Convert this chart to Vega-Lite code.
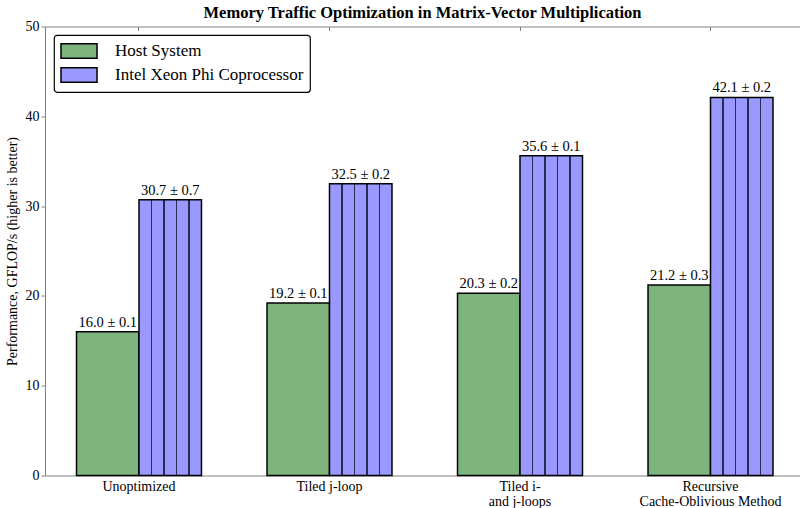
{
  "$schema": "https://vega.github.io/schema/vega-lite/v6.json",
  "autosize": {"type": "none"},
  "width": 755,
  "height": 449,
  "padding": {"left": 45, "top": 26.5, "right": 0, "bottom": 32.5},
  "background": "white",
  "title": {
    "text": "Memory Traffic Optimization in Matrix-Vector Multiplication",
    "font": "Liberation Serif",
    "fontSize": 16.5,
    "fontWeight": "bold",
    "color": "black",
    "anchor": "middle",
    "offset": -2
  },
  "config": {
    "view": {"stroke": null},
    "axis": {
      "labelFont": "Liberation Serif",
      "titleFont": "Liberation Serif",
      "labelFontSize": 14,
      "titleFontSize": 14,
      "labelColor": "black",
      "titleColor": "black",
      "titleFontWeight": "normal",
      "domainColor": "#808080",
      "tickColor": "#808080",
      "grid": false
    },
    "legend": {
      "orient": "none",
      "legendX": 9,
      "legendY": 8.5,
      "fillColor": "white",
      "strokeColor": "black",
      "strokeWidth": 1.2,
      "cornerRadius": 3,
      "padding": 6,
      "symbolType": "M-2,-0.8H2V0.8H-2Z",
      "symbolSize": 324,
      "symbolOffset": 9,
      "symbolStrokeColor": "black",
      "symbolStrokeWidth": 1.5,
      "symbolOpacity": 1,
      "labelFont": "Liberation Serif",
      "labelFontSize": 17,
      "labelColor": "black",
      "labelOffset": 26,
      "rowPadding": 2,
      "labelLimit": 400
    }
  },
  "data": {
    "values": [
      {"method": "Unoptimized", "series": "Host System", "value": 16.0, "label": "16.0 ± 0.1"},
      {"method": "Unoptimized", "series": "Intel Xeon Phi Coprocessor", "value": 30.7, "label": "30.7 ± 0.7"},
      {"method": "Tiled j-loop", "series": "Host System", "value": 19.2, "label": "19.2 ± 0.1"},
      {"method": "Tiled j-loop", "series": "Intel Xeon Phi Coprocessor", "value": 32.5, "label": "32.5 ± 0.2"},
      {"method": "Tiled i-\nand j-loops", "series": "Host System", "value": 20.3, "label": "20.3 ± 0.2"},
      {"method": "Tiled i-\nand j-loops", "series": "Intel Xeon Phi Coprocessor", "value": 35.6, "label": "35.6 ± 0.1"},
      {"method": "Recursive\nCache-Oblivious Method", "series": "Host System", "value": 21.2, "label": "21.2 ± 0.3"},
      {"method": "Recursive\nCache-Oblivious Method", "series": "Intel Xeon Phi Coprocessor", "value": 42.1, "label": "42.1 ± 0.2"}
    ]
  },
  "encoding": {
    "x": {
      "field": "method",
      "type": "nominal",
      "sort": null,
      "scale": {"range": [0, 759.5], "paddingInner": 0.344, "paddingOuter": 0.1654}
    },
    "xOffset": {
      "field": "series",
      "type": "nominal",
      "scale": {"domain": ["Host System", "Intel Xeon Phi Coprocessor"], "paddingInner": 0, "paddingOuter": 0}
    },
    "y": {
      "field": "value",
      "type": "quantitative",
      "scale": {"domain": [0, 50], "nice": false, "zero": true}
    }
  },
  "layer": [
    {
      "mark": {"type": "bar", "stroke": "black", "strokeWidth": 1.5, "opacity": 1},
      "encoding": {
        "x": {
          "field": "method",
          "type": "nominal",
          "sort": null,
          "axis": {
            "orient": "bottom",
            "title": null,
            "labelAngle": 0,
            "ticks": false,
            "labelPadding": 4,
            "labelLineHeight": 15,
            "labelExpr": "split(datum.label, '\\n')",
            "labelLimit": 400
          }
        },
        "y": {
          "field": "value",
          "type": "quantitative",
          "axis": {
            "title": "Performance, GFLOP/s (higher is better)",
            "values": [0, 10, 20, 30, 40, 50],
            "tickSize": 4,
            "labelPadding": 2,
            "titlePadding": 6
          }
        },
        "color": {
          "field": "series",
          "type": "nominal",
          "title": null,
          "scale": {"domain": ["Host System", "Intel Xeon Phi Coprocessor"], "range": ["#7db47d", "#9999ff"]},
          "condition": {
            "test": "datum.series === 'Intel Xeon Phi Coprocessor'",
            "value": {
              "gradient": "linear",
              "x1": 0, "y1": 0, "x2": 1, "y2": 0,
              "stops": [
                {"offset": 0, "color": "#9999ff"},
                {"offset": 0.19, "color": "#9999ff"},
                {"offset": 0.19, "color": "#2a2a55"},
                {"offset": 0.21, "color": "#2a2a55"},
                {"offset": 0.21, "color": "#9999ff"},
                {"offset": 0.39, "color": "#9999ff"},
                {"offset": 0.39, "color": "#2a2a55"},
                {"offset": 0.41, "color": "#2a2a55"},
                {"offset": 0.41, "color": "#9999ff"},
                {"offset": 0.59, "color": "#9999ff"},
                {"offset": 0.59, "color": "#2a2a55"},
                {"offset": 0.61, "color": "#2a2a55"},
                {"offset": 0.61, "color": "#9999ff"},
                {"offset": 0.79, "color": "#9999ff"},
                {"offset": 0.79, "color": "#2a2a55"},
                {"offset": 0.81, "color": "#2a2a55"},
                {"offset": 0.81, "color": "#9999ff"},
                {"offset": 1, "color": "#9999ff"}
              ]
            }
          }
        }
      }
    },
    {
      "mark": {"type": "text", "font": "Liberation Serif", "fontSize": 14.5, "color": "black", "baseline": "alphabetic", "dy": -5},
      "encoding": {
        "x": {
          "field": "method",
          "type": "nominal",
          "sort": null,
          "axis": {"orient": "top", "title": null, "labels": false, "tickSize": -4, "domainColor": "#808080"}
        },
        "text": {"field": "label", "type": "nominal"}
      }
    }
  ]
}
